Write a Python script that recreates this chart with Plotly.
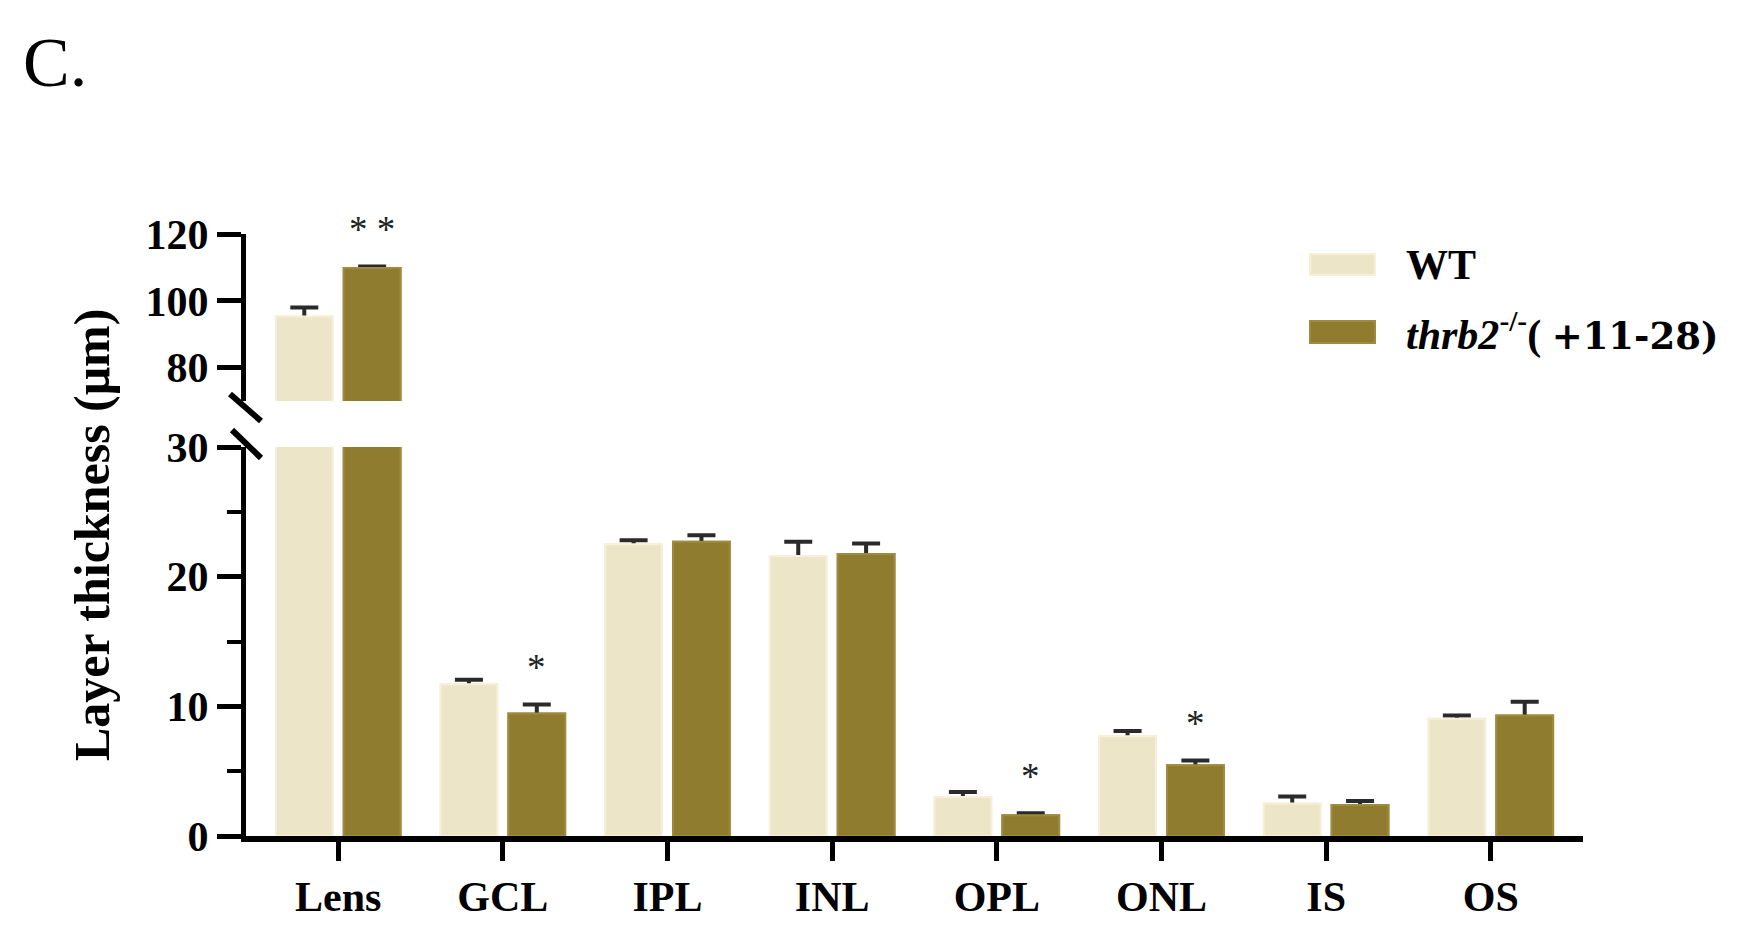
import plotly.graph_objects as go

# ---------------- data ----------------
categories = ["Lens", "GCL", "IPL", "INL", "OPL", "ONL", "IS", "OS"]
wt_mean = [95.3, 11.7, 22.5, 21.6, 3.0, 7.7, 2.5, 9.05]
wt_err = [2.7, 0.35, 0.3, 1.1, 0.4, 0.4, 0.55, 0.25]
ko_mean = [109.8, 9.45, 22.7, 21.75, 1.6, 5.45, 2.4, 9.3]
ko_err = [0.5, 0.7, 0.5, 0.8, 0.15, 0.38, 0.3, 1.05]
series_names = [
    "WT",
    "<i>thrb2</i><sup>-/-</sup>( <span style=\"font-family:'DejaVu Serif'; font-size:37px\">+11-28)</span>",
]
significance = ["* *", "*", "", "", "*", "*", "", ""]
lower_ticks = [0, 10, 20, 30]
lower_minor = [5, 15, 25]
upper_ticks = [80, 100, 120]
lower_range = [0, 30]
upper_range = [70, 120]
y_title = "Layer thickness (μm)"
panel_label = "C."

# ---------------- style ----------------
OFF = 8  # page body margin
W, H = 1748 - 2 * OFF, 951 - 2 * OFF
L = 246 - OFF
T = 234 - OFF
PLOT_RIGHT = 1583 - OFF
PLOT_BOTTOM = 836 - OFF
R = W - PLOT_RIGHT
B = H - PLOT_BOTTOM
PW, PH = PLOT_RIGHT - L, PLOT_BOTTOM - T
WT_FILL, WT_EDGE = "#ECE5C8", "#F6F0DA"
KO_FILL, KO_EDGE = "#8F7C2E", "#9E8B3D"
FONT = "Liberation Serif"
BAR_W = 0.345
BAR_OFFSETS = [-0.206 - BAR_W / 2, 0.206 - BAR_W / 2]


def px2x(px):  # page pixel -> paper x
    return (px - OFF - L) / PW


def px2y(py):  # page pixel -> paper y
    return (PLOT_BOTTOM - (py - OFF)) / PH


low_dom = [0, px2y(447)]
up_dom = [px2y(401), 1]

fig = go.Figure()
fills = [(WT_FILL, WT_EDGE), (KO_FILL, KO_EDGE)]
means = [wt_mean, ko_mean]
errs = [wt_err, ko_err]
for axes in [("x", "y"), ("x2", "y2")]:
    # first pass: bars with error bars; second pass: same bars drawn on top
    # so that only the upward half of each error bar remains visible
    for with_err in (True, False):
        for i in range(2):
            kw = {}
            if with_err:
                kw["error_y"] = dict(type="data", array=errs[i],
                                     color="#2a2a2a", thickness=4, width=14)
            fig.add_trace(go.Bar(
                x=categories, y=means[i], name=series_names[i],
                xaxis=axes[0], yaxis=axes[1],
                width=BAR_W, offset=BAR_OFFSETS[i],
                marker=dict(color=fills[i][0],
                            line=dict(color=fills[i][1], width=2)),
                showlegend=False, **kw,
            ))

axis_common = dict(showline=True, linecolor="black", linewidth=5,
                   ticks="outside", tickcolor="black", tickwidth=5, ticklen=24,
                   showgrid=False, zeroline=False,
                   tickfont=dict(family=FONT, size=42, color="black", weight="bold"))

fig.update_layout(
    width=W, height=H,
    margin=dict(l=L, r=R, t=T, b=B, autoexpand=False),
    paper_bgcolor="white", plot_bgcolor="white",
    barmode="overlay",
    showlegend=False,
    xaxis=dict(type="category", range=[-0.56, 7.56], anchor="y",
               showline=True, linecolor="black", linewidth=6,
               ticks="outside", tickcolor="black", tickwidth=5, ticklen=19,
               showgrid=False, ticklabelstandoff=0,
               tickfont=dict(family=FONT, size=42, color="black", weight="bold")),
    xaxis2=dict(type="category", range=[-0.56, 7.56], anchor="y2",
                matches="x", visible=False),
    yaxis=dict(domain=low_dom, range=lower_range, tickvals=lower_ticks,
               minor=dict(tickvals=lower_minor, ticks="outside", ticklen=14,
                          tickwidth=4, tickcolor="black"),
               **axis_common),
    yaxis2=dict(domain=up_dom, range=upper_range, tickvals=upper_ticks,
                anchor="x2", **axis_common),
)

# axis break marks
for (x0, y0, x1, y1) in [(230, 394, 261, 421), (232, 430, 261, 458)]:
    fig.add_shape(type="line", xref="paper", yref="paper",
                  x0=px2x(x0), y0=px2y(y0), x1=px2x(x1), y1=px2y(y1),
                  line=dict(color="black", width=6))

# significance stars
for i, s in enumerate(significance):
    if not s:
        continue
    top = ko_mean[i] + ko_err[i]
    yref = "y2" if top > lower_range[1] else "y"
    xref = "x2" if yref == "y2" else "x"
    fig.add_annotation(x=i + 0.206, y=top, xref=xref, yref=yref, text=s,
                       showarrow=False, yanchor="middle", yshift=37,
                       font=dict(family=FONT, size=37, color="#222"))

# y title
fig.add_annotation(x=px2x(92), y=0.5, xref="paper", yref="paper",
                   text=y_title, textangle=-90, showarrow=False,
                   xanchor="center", yanchor="middle",
                   font=dict(family=FONT, size=50, color="black", weight="bold"))

# panel label
fig.add_annotation(x=px2x(21), y=px2y(63), xref="paper", yref="paper",
                   text=panel_label, showarrow=False, xanchor="left",
                   yanchor="middle",
                   font=dict(family=FONT, size=70, color="black"))

# manual legend
leg_rows = [(254, 275), (321, 343)]
for i, (ya, yb) in enumerate(leg_rows):
    fig.add_shape(type="rect", xref="paper", yref="paper",
                  x0=px2x(1310), x1=px2x(1375), y0=px2y(yb), y1=px2y(ya),
                  fillcolor=fills[i][0], line=dict(color=fills[i][1], width=2))
    fig.add_annotation(x=px2x(1404), y=px2y((ya + yb) / 2), xref="paper",
                       yref="paper", text=series_names[i], showarrow=False,
                       xanchor="left", yanchor="middle",
                       font=dict(family=FONT, size=42, color="black",
                                 weight="bold"))

fig.write_html("out.html")
